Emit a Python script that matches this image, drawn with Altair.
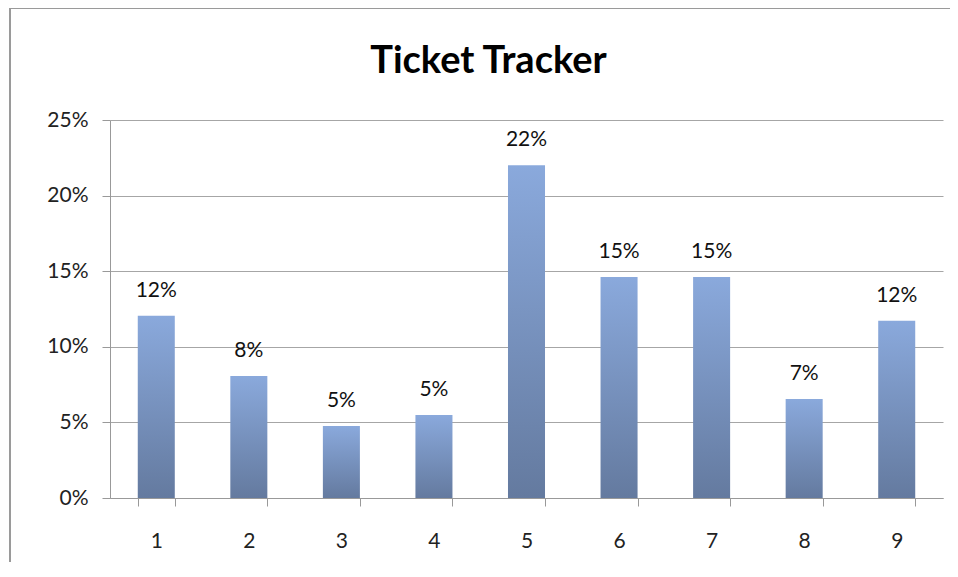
import altair as alt
import pandas as pd

categories = ["1", "2", "3", "4", "5", "6", "7", "8", "9"]
values = [0.1205, 0.0807, 0.0476, 0.0549, 0.2200, 0.1462, 0.1462, 0.0655, 0.1172]

df = pd.DataFrame({"cat": categories, "val": values})

FONT = "Lato"

grad = alt.Gradient(
    gradient="linear",
    stops=[alt.GradientStop(color="#8aa9dc", offset=0),
           alt.GradientStop(color="#647a9f", offset=1)],
    x1=0, x2=0, y1=0, y2=1,
)

yscale = alt.Scale(domain=[0, 0.25], nice=False)

x = alt.X("cat:N", sort=categories, title=None,
          scale=alt.Scale(paddingInner=0.6, paddingOuter=0.3),
          axis=alt.Axis(labelAngle=0, labelFont=FONT, labelFontSize=21, labelColor="#222",
                        tickBand="extent", tickSize=8, tickColor="#999", domainColor="#999",
                        labelPadding=24, grid=False))
y = alt.Y("val:Q", title=None, scale=yscale,
          axis=alt.Axis(format=".0%", values=[0, 0.05, 0.10, 0.15, 0.20, 0.25],
                        labelFont=FONT, labelFontSize=21, labelColor="#222",
                        tickSize=8, tickColor="#999", domainColor="#999",
                        gridColor="#a6a6a6", gridWidth=1, labelPadding=14))

bars = alt.Chart(df).mark_bar(color=grad).encode(x=x, y=y)
labels = alt.Chart(df).mark_text(font=FONT, fontSize=21, color="#111", dy=-25, baseline="middle").encode(
    x=alt.X("cat:N", sort=categories), y=alt.Y("val:Q", scale=yscale),
    text=alt.Text("val:Q", format=".0%"))

border = alt.Chart(df).mark_rect(fill=None, stroke="#9a9a9a", strokeWidth=2, clip=False).encode(
    x=alt.value(-100), x2=alt.value(900), y=alt.value(-112), y2=alt.value(520))

chart = alt.layer(border, bars, labels).properties(
    width=833, height=378,
    autosize=alt.AutoSizeParams(type="none"),
    padding={"left": 102, "top": 112, "right": 7, "bottom": 64},
    title=alt.TitleParams("Ticket Tracker", font=FONT, fontSize=38, fontWeight="bold",
                          color="#000", anchor="middle", dx=-38, offset=0, baseline="bottom", dy=112),
).configure_view(stroke=None).configure_axis(domainWidth=1, tickWidth=1)

chart.save("out.html", embed_options={"renderer": "svg", "actions": False})
